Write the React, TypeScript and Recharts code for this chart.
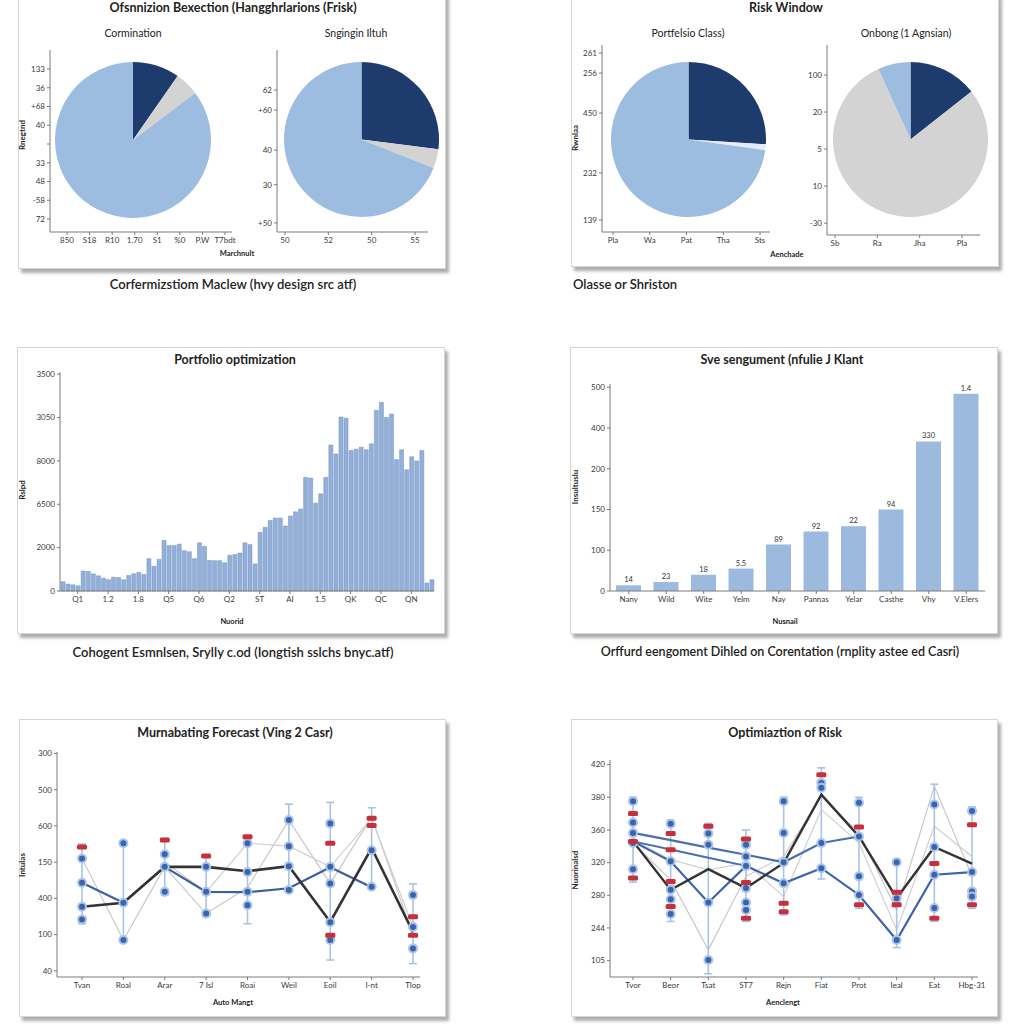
import React from 'react'
import {
  PieChart,
  Pie,
  Cell,
  ComposedChart,
  Bar,
  Line,
  XAxis,
  YAxis,
  ErrorBar,
  LabelList,
} from 'recharts'

const FONT = 'Lato, "Open Sans", sans-serif'
const NAVY = '#1d3c6d'
const LIGHT = '#9dbde0'
const GREY = '#d3d3d3'
const PALE = '#e4edf7'

// ---- pies (top row) ----
const pieCore = [
  { name: 'Core', value: 9.7 },
  { name: 'Cash', value: 5 },
  { name: 'Growth', value: 85.3 },
]
const pieSingle = [
  { name: 'Core', value: 27 },
  { name: 'Cash', value: 4 },
  { name: 'Growth', value: 69 },
]
const pieClass = [
  { name: 'Core', value: 26 },
  { name: 'Cash', value: 1.2 },
  { name: 'Growth', value: 72.8 },
]
const pieOngoing = [
  { name: 'Core', value: 14.4 },
  { name: 'Other', value: 78.8 },
  { name: 'Growth', value: 6.8 },
]

const tlaX = ['850', 'S18', 'R10', '1.70', 'S1', '%0', 'P.W', 'T7bdt']
const tlaYTicks = [0, 1, 2, 3, 4, 5, 6, 7, 8]
const tlaY = ['72', '-58', '48', '33', '', '40', '+68', '36', '133']
const tlbX = ['50', '52', '50', '55']
const tlbYTicks = [5, 26, 45, 67, 78]
const tlbY = ['+50', '30', '40', '+60', '62']
const traX = ['Pla', 'Wa', 'Pat', 'Tha', 'Sts']
const traYTicks = [6.4, 31.6, 63.6, 85, 95.7]
const traY = ['139', '232', '450', '256', '261']
const trbX = ['Sb', 'Ra', 'Jha', 'Pla']
const trbYTicks = [0, 1, 2, 3, 4]
const trbY = ['-30', '10', '5', '20', '100']

// ---- portfolio optimization bars ----
const portfolioValues = [
  430, 320, 285, 240, 920, 905, 790, 700, 590, 520, 635, 620, 520, 715, 795, 860, 760, 1490, 1140, 1460,
  2330, 2095, 2095, 2160, 1860, 1810, 1490, 2220, 2060, 1410, 1400, 1400, 1300, 1650, 1680, 1750, 2220, 2140,
  1250, 2700, 2940, 3250, 3365, 3365, 3000, 3460, 3650, 3780, 5240, 5210, 4050, 4480, 5240, 6730, 6320, 8020,
  7970, 6480, 6540, 6630, 6510, 6790, 8330, 8700, 8000, 8160, 6060, 6510, 5590, 6190, 6000, 6480, 365, 520,
]
const portfolioTickIdx = [3, 9, 15, 21, 27, 33, 39, 45, 51, 57, 63, 69]
const portfolioTickLabels = ['Q1', '1.2', '1.8', 'Q5', 'Q6', 'Q2', 'ST', 'AI', '1.5', 'QK', 'QC', 'QN']
const portfolioYTicks = [0, 2000, 4000, 6000, 8000, 10000]
const portfolioYLabels = ['0', '2000', '6500', '8000', '3050', '3500']

// ---- segment bars ----
const segCats = ['Nany', 'Wild', 'Wite', 'Yelm', 'Nay', 'Pannas', 'Yelar', 'Casthe', 'Vhy', 'V.Elers']
const segValues = [14, 22, 40, 55, 114, 146, 159, 200, 367, 484]
const segLabels = ['14', '23', '18', '5.5', '89', '92', '22', '94', '330', '1.4']
const segYTicks = [0, 100, 200, 300, 400, 500]
const segYLabels = ['0', '100', '150', '200', '400', '500']

// ---- forecast lines ----
const fcCats = ['Tvan', 'Roal', 'Arar', '7 Isl', 'Roai', 'Weil', 'Eoil', 'I-nt', 'Tlop']
const fcBlack = [177, 188, 287, 287, 275, 289, 135, 339, 107]
const fcBlue = [243, 188, 287, 218, 217, 228, 286, 231, null]
const fcGreyA = [310, 85, 287, 158, 230, 416, 241, 425, 98]
const fcGreyB = [null, null, 300, 218, 352, 344, 287, 421, 121]
const fcLo = [130, 80, 210, 150, 130, 220, 30, 230, 20]
const fcHi = [350, 355, 365, 320, 372, 460, 465, 450, 240]
const fcM1 = [310, 352, 322, 287, 352, 416, 407, 333, 209]
const fcM2 = [243, 188, 287, 218, 273, 344, 287, 232, 121]
const fcM3 = [177, 85, 218, 158, 218, 289, 241, null, 62]
const fcM4 = [142, null, null, null, 181, 223, 134, null, null]
const fcM5 = [null, null, null, null, null, null, 85, null, null]
const fcR1 = [342, null, 361, 317, 370, null, 352, 421, 149]
const fcR2 = [null, null, null, null, null, null, 98, 401, 98]
const fcYTicks = [0, 100, 200, 300, 400, 500, 600]
const fcYLabels = ['40', '100', '400', '150', '600', '500', '300']

// ---- risk lines ----
const riskCats = ['Tvor', 'Beor', 'Tsat', 'ST7', 'Rejn', 'Fiat', 'Prot', 'Ieal', 'Eat', 'Hbg-31']
const riskBlack = [365, 217, 280, 222, 299, 508, 380, 191, 348, 297]
const riskBlueA = [391, 369, 346, 324, 301, 360, 380, null, null, null]
const riskBlueB = [365, 304, 178, 290, 237, 283, 201, 63, 263, 271]
const riskBlueC = [365, 340, 315, 290, null, null, null, null, null, null]
const riskGreyA = [360, 247, 33, 258, 319, 503, 391, 155, 534, 258]
const riskGreyB = [370, 309, 278, 299, 196, 462, 360, 94, 411, 319]
const riskLo = [240, 120, -40, 120, 140, 250, 160, 40, 120, 160]
const riskHi = [500, 430, 420, 400, 500, 590, 500, 310, 540, 470]
const riskM1 = [488, 419, 389, 355, 488, 544, 483, 301, 478, 458]
const riskM2 = [423, 304, 355, 319, 391, 529, 380, 191, 348, 271]
const riskM3 = [391, 217, 178, 290, 301, 360, 258, 63, 263, 212]
const riskM4 = [360, 188, 2, 222, 237, 283, 201, null, 161, 196]
const riskM5 = [280, 143, null, 178, null, null, null, null, null, null]
const riskM6 = [null, null, null, 155, null, null, null, null, null, null]
const riskR1 = [450, 389, 411, 372, 176, 569, 409, 209, 297, 416]
const riskR2 = [365, 339, null, 239, 150, null, 171, 171, 130, 171]
const riskR3 = [253, 242, null, 130, null, null, null, null, null, null]
const riskR4 = [null, 166, null, null, null, null, null, null, null, null]
const riskYTicks = [0, 100, 200, 300, 400, 500, 600]
const riskYLabels = ['105', '244', '280', '320', '360', '380', '420']

const tickStyle = { fontSize: 8, fill: '#3a3a3a', fontFamily: FONT }
const AXIS = '#7a7a7a'

function Txt({ x, y, text, size = 8, weight = 700, anchor = 'middle', rotate = false, color = '#222' }: any) {
  const tx = anchor === 'middle' ? '-50%' : anchor === 'end' ? '-100%' : '0'
  return (
    <div
      style={{
        position: 'absolute', left: x, top: y,
        transform: `translate(${tx}, -50%)${rotate ? ' rotate(-90deg)' : ''}`,
        fontSize: size, fontWeight: weight, color, whiteSpace: 'nowrap', fontFamily: FONT, lineHeight: 1,
      }}
    >
      {text}
    </div>
  )
}

function Box({ left, top, width, height }: any) {
  return (
    <div
      style={{
        position: 'absolute', left, top, width, height, background: '#fff',
        border: '1px solid #d6d6d6', boxShadow: '3px 4px 3px rgba(0,0,0,0.32)',
      }}
    />
  )
}

// axes only, drawn around a pie
function Frame({ plot, xLabels, padL, padR, yTicks, yLabels, yDomain }: any) {
  const [x0, y0, x1, y1] = plot
  const yw = 30
  const xh = 22
  const data = xLabels.map((name: string) => ({ name }))
  return (
    <div style={{ position: 'absolute', left: x0 - yw, top: y0 - 6 }}>
      <ComposedChart
        width={x1 - x0 + yw + 12}
        height={y1 - y0 + 6 + xh}
        data={data}
        margin={{ top: 6, right: 12, left: 0, bottom: 0 }}
      >
        <XAxis dataKey="name" height={xh} padding={{ left: padL, right: padR }} tick={tickStyle}
          stroke={AXIS} tickSize={3} interval={0} />
        <YAxis type="number" domain={yDomain} ticks={yTicks} width={yw} tick={tickStyle} stroke={AXIS}
          tickSize={3} interval={0} allowDataOverflow tickFormatter={(_v: any, i: number) => yLabels[i]} />
      </ComposedChart>
    </div>
  )
}

function PieAt({ cx, cy, r, data, colors }: any) {
  return (
    <div style={{ position: 'absolute', left: cx - r - 2, top: cy - r - 2 }}>
      <PieChart width={2 * r + 4} height={2 * r + 4} margin={{ top: 0, right: 0, left: 0, bottom: 0 }}>
        <Pie data={data} dataKey="value" cx={r + 2} cy={r + 2} outerRadius={r} startAngle={90} endAngle={-270}
          stroke="none" isAnimationActive={false}>
          {data.map((d: any, i: number) => <Cell key={d.name} fill={colors[i]} />)}
        </Pie>
      </PieChart>
    </div>
  )
}

function PortfolioBars() {
  const data = portfolioValues.map((v, k) => ({ k, v }))
  return (
    <div style={{ position: 'absolute', left: 22, top: 364 }}>
      <ComposedChart width={424} height={253} data={data} margin={{ top: 8, right: 12, left: 0, bottom: 0 }}>
        <XAxis dataKey="k" ticks={portfolioTickIdx} interval={0} height={26} tick={tickStyle} stroke={AXIS}
          tickSize={3} tickFormatter={(v: any) => portfolioTickLabels[portfolioTickIdx.indexOf(v)]} />
        <YAxis type="number" domain={[0, 10100]} ticks={portfolioYTicks} width={38} tick={tickStyle}
          stroke={AXIS} tickSize={3} interval={0} tickFormatter={(_v: any, i: number) => portfolioYLabels[i]} />
        <Bar dataKey="v" barSize={4} fill="#93b0d8" stroke="#6f8fc0" strokeWidth={0.5} isAnimationActive={false} />
      </ComposedChart>
    </div>
  )
}

function SegmentBars() {
  const data = segCats.map((name, i) => ({ name, v: segValues[i], label: segLabels[i] }))
  return (
    <div style={{ position: 'absolute', left: 574, top: 376 }}>
      <ComposedChart width={423} height={241} data={data} margin={{ top: 8, right: 12, left: 0, bottom: 0 }}>
        <XAxis dataKey="name" interval={0} height={26} tick={tickStyle} stroke={AXIS} tickSize={3} />
        <YAxis type="number" domain={[0, 508]} ticks={segYTicks} width={36} tick={tickStyle} stroke={AXIS}
          tickSize={3} interval={0} tickFormatter={(_v: any, i: number) => segYLabels[i]} />
        <Bar dataKey="v" barSize={25} fill="#9bbade" isAnimationActive={false}>
          <LabelList dataKey="label" position="top" offset={3} style={{ fontSize: 7.5, fill: '#333', fontFamily: FONT }} />
        </Bar>
      </ComposedChart>
    </div>
  )
}

const blueDot = { r: 4, fill: '#3d63ad', stroke: '#a9c5ea', strokeWidth: 2 }
function redDot(p: any) {
  if (p.cy == null || p.value == null) return <g key={`r${p.index}`} />
  return <rect key={`r${p.index}`} x={p.cx - 5} y={p.cy - 2.5} width={10} height={5} rx={1.5} fill="#c7303a" />
}

function MarkerLines({ keys }: any) {
  return keys.map((k: string) => (
    <Line key={k} dataKey={k} stroke="none" dot={blueDot} activeDot={false} isAnimationActive={false} />
  ))
}

function Forecast() {
  const data = fcCats.map((name, i) => ({
    name,
    black: fcBlack[i], blue: fcBlue[i], ga: fcGreyA[i], gb: fcGreyB[i],
    mid: (fcLo[i] + fcHi[i]) / 2, err: (fcHi[i] - fcLo[i]) / 2,
    m1: fcM1[i], m2: fcM2[i], m3: fcM3[i], m4: fcM4[i], m5: fcM5[i],
    r1: fcR1[i], r2: fcR2[i],
  }))
  return (
    <div style={{ position: 'absolute', left: 21, top: 744 }}>
      <ComposedChart width={411} height={259} data={data} margin={{ top: 8, right: 12, left: 0, bottom: 0 }}>
        <XAxis dataKey="name" interval={0} height={26} padding={{ left: 25, right: 7 }} tick={tickStyle}
          stroke={AXIS} tickSize={3} />
        <YAxis type="number" domain={[-17, 604]} ticks={fcYTicks} width={36} tick={tickStyle} stroke={AXIS}
          tickSize={3} interval={0} allowDataOverflow tickFormatter={(_v: any, i: number) => fcYLabels[i]} />
        <Line dataKey="ga" stroke="#c9c9c9" strokeWidth={1.2} dot={false} isAnimationActive={false} />
        <Line dataKey="gb" stroke="#cfcfcf" strokeWidth={1.2} dot={false} isAnimationActive={false} />
        <Line dataKey="mid" stroke="none" dot={false} activeDot={false} isAnimationActive={false}>
          <ErrorBar dataKey="err" width={4} stroke="#a8c3e6" strokeWidth={1.6} direction="y" />
        </Line>
        <Line dataKey="blue" stroke="#3d5f9c" strokeWidth={2.2} dot={false} isAnimationActive={false} />
        <Line dataKey="black" stroke="#333" strokeWidth={2.6} dot={false} isAnimationActive={false} />
        {MarkerLines({ keys: ['m1', 'm2', 'm3', 'm4', 'm5'] })}
        <Line dataKey="r1" stroke="none" dot={redDot} activeDot={false} isAnimationActive={false} />
        <Line dataKey="r2" stroke="none" dot={redDot} activeDot={false} isAnimationActive={false} />
      </ComposedChart>
    </div>
  )
}

function Risk() {
  const data = riskCats.map((name, i) => ({
    name,
    black: riskBlack[i], ba: riskBlueA[i], bb: riskBlueB[i], bc: riskBlueC[i],
    ga: riskGreyA[i], gb: riskGreyB[i],
    mid: (riskLo[i] + riskHi[i]) / 2, err: (riskHi[i] - riskLo[i]) / 2,
    m1: riskM1[i], m2: riskM2[i], m3: riskM3[i], m4: riskM4[i], m5: riskM5[i], m6: riskM6[i],
    r1: riskR1[i], r2: riskR2[i], r3: riskR3[i], r4: riskR4[i],
  }))
  return (
    <div style={{ position: 'absolute', left: 574, top: 752 }}>
      <ComposedChart width={420} height={251} data={data} margin={{ top: 8, right: 16, left: 0, bottom: 0 }}>
        <XAxis dataKey="name" interval={0} height={26} padding={{ left: 23, right: 6 }} tick={tickStyle}
          stroke={AXIS} tickSize={3} />
        <YAxis type="number" domain={[-50, 614]} ticks={riskYTicks} width={36} tick={tickStyle} stroke={AXIS}
          tickSize={3} interval={0} allowDataOverflow tickFormatter={(_v: any, i: number) => riskYLabels[i]} />
        <Line dataKey="ga" stroke="#c9c9c9" strokeWidth={1.2} dot={false} isAnimationActive={false} />
        <Line dataKey="gb" stroke="#cfcfcf" strokeWidth={1.2} dot={false} isAnimationActive={false} />
        <Line dataKey="mid" stroke="none" dot={false} activeDot={false} isAnimationActive={false}>
          <ErrorBar dataKey="err" width={4} stroke="#a8c3e6" strokeWidth={1.6} direction="y" />
        </Line>
        <Line dataKey="bc" stroke="#4a6fae" strokeWidth={2} dot={false} isAnimationActive={false} />
        <Line dataKey="ba" stroke="#4a6fae" strokeWidth={2.2} dot={false} isAnimationActive={false} />
        <Line dataKey="bb" stroke="#3d63ad" strokeWidth={2.2} dot={false} isAnimationActive={false} />
        <Line dataKey="black" stroke="#333" strokeWidth={2.4} dot={false} isAnimationActive={false} />
        {MarkerLines({ keys: ['m1', 'm2', 'm3', 'm4', 'm5', 'm6'] })}
        {['r1', 'r2', 'r3', 'r4'].map((k) => (
          <Line key={k} dataKey={k} stroke="none" dot={redDot} activeDot={false} isAnimationActive={false} />
        ))}
      </ComposedChart>
    </div>
  )
}

export default function App() {
  return (
    <div style={{ position: 'absolute', left: 0, top: 0, width: 1024, height: 1024, overflow: 'hidden', background: '#fff', fontFamily: FONT }}>
      {/* boxes */}
      <Box left={18} top={-6} width={426} height={273} />
      <Box left={571} top={-6} width={426} height={271} />
      <Box left={17} top={347} width={426} height={285} />
      <Box left={570} top={347} width={426} height={285} />
      <Box left={19} top={719} width={425} height={296} />
      <Box left={571} top={719} width={425} height={296} />

      {/* top-left: two pies */}
      <Txt x={233} y={8} text="Ofsnnizion Bexection (Hangghrlarions (Frisk)" size={12.5} />
      <Txt x={133} y={33} text="Cormination" size={10.5} weight={400} />
      <Txt x={356} y={33} text="Sngingin Iltuh" size={10.5} weight={400} />
      <Frame plot={[50, 50, 232, 232]} xLabels={tlaX} padL={17} padR={7} yTicks={tlaYTicks} yLabels={tlaY} yDomain={[-0.69, 9.01]} />
      <Frame plot={[277, 50, 428, 232]} xLabels={tlbX} padL={8} padR={13} yTicks={tlbYTicks} yLabels={tlbY} yDomain={[0, 100]} />
      <PieAt cx={133} cy={139.5} r={78} data={pieCore} colors={[NAVY, GREY, LIGHT]} />
      <PieAt cx={361} cy={139.5} r={77.5} data={pieSingle} colors={[NAVY, GREY, LIGHT]} />
      <Txt x={22} y={135} text="Rnegtnd" size={8} rotate />
      <Txt x={237} y={254} text="Marchnult" size={7.5} />
      <Txt x={233} y={284} text="Corfermizstiom Maclew (hvy design src atf)" size={13} weight={600} />

      {/* top-right: two pies */}
      <Txt x={786} y={8} text="Risk Window" size={12.5} />
      <Txt x={688} y={33} text="Portfelsio Class)" size={10.5} weight={400} />
      <Txt x={906} y={33} text="Onbong (1 Agnsian)" size={10.5} weight={400} />
      <Frame plot={[602, 45, 770, 232]} xLabels={traX} padL={11} padR={10} yTicks={traYTicks} yLabels={traY} yDomain={[0, 100]} />
      <Frame plot={[827, 45, 980, 235]} xLabels={trbX} padL={8} padR={18} yTicks={trbYTicks} yLabels={trbY} yDomain={[-0.32, 4.81]} />
      <PieAt cx={688.5} cy={139} r={77.5} data={pieClass} colors={[NAVY, PALE, LIGHT]} />
      <PieAt cx={910.5} cy={139.5} r={77.5} data={pieOngoing} colors={[NAVY, GREY, LIGHT]} />
      <Txt x={575} y={138} text="Rwnlaa" size={8} rotate />
      <Txt x={787} y={255} text="Aenchade" size={7.5} />
      <Txt x={573} y={284} text="Olasse or Shriston" size={13} weight={600} anchor="start" />

      {/* middle-left: portfolio bars */}
      <Txt x={235} y={360} text="Portfolio optimization" size={12.5} />
      <PortfolioBars />
      <Txt x={22} y={490} text="Rslpd" size={8} rotate />
      <Txt x={232} y={622} text="Nuorid" size={7.5} />
      <Txt x={233} y={652} text="Cohogent Esmnlsen, Srylly c.od (Iongtish sslchs bnyc.atf)" size={13} weight={600} />

      {/* middle-right: segment bars */}
      <Txt x={782} y={360} text="Sve sengument (nfulie J Klant" size={12.5} />
      <SegmentBars />
      <Txt x={575} y={487} text="Insultuslu" size={8} rotate />
      <Txt x={785} y={622} text="Nusnail" size={7.5} />
      <Txt x={780} y={652} text="Orffurd eengoment Dihled on Corentation (rnplity astee ed Casri)" size={12.5} weight={600} />

      {/* bottom-left: forecast */}
      <Txt x={235} y={733} text="Murnabating Forecast (Ving 2 Casr)" size={12.5} />
      <Forecast />
      <Txt x={22} y={865} text="Intulas" size={8} rotate />
      <Txt x={233} y={1003} text="Auto Mangt" size={7.5} />

      {/* bottom-right: risk */}
      <Txt x={785} y={733} text="Optimiaztion of Risk" size={12.5} />
      <Risk />
      <Txt x={575} y={870} text="Nuorinalsd" size={8} rotate />
      <Txt x={783} y={1003} text="Aenclengt" size={7.5} />
    </div>
  )
}
